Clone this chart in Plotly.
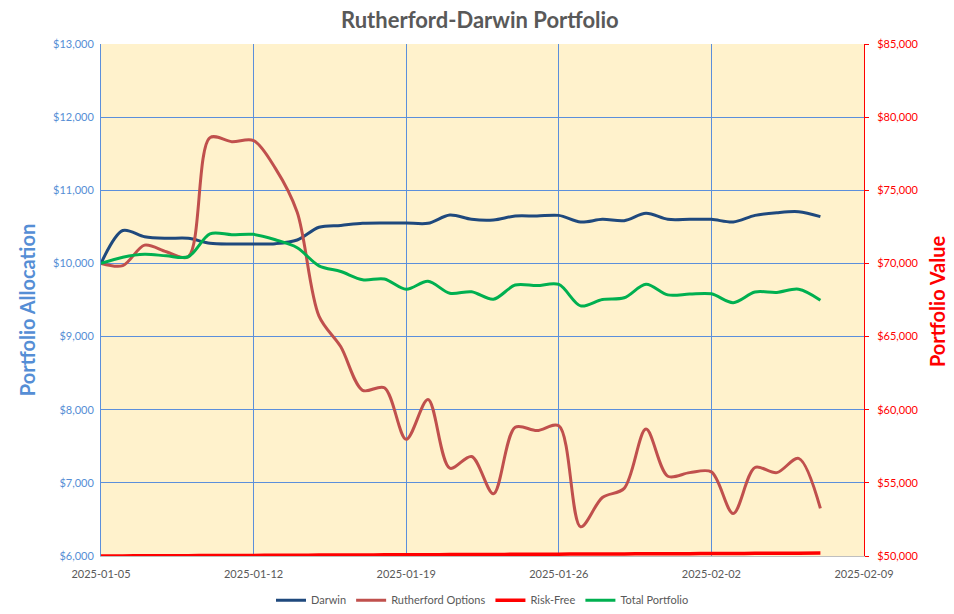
import plotly.graph_objects as go

dates = ["2025-01-05", "2025-01-06", "2025-01-07", "2025-01-08", "2025-01-09", "2025-01-10",
         "2025-01-11", "2025-01-12", "2025-01-13", "2025-01-14", "2025-01-15", "2025-01-16",
         "2025-01-17", "2025-01-18", "2025-01-19", "2025-01-20", "2025-01-21", "2025-01-22",
         "2025-01-23", "2025-01-24", "2025-01-25", "2025-01-26", "2025-01-27", "2025-01-28",
         "2025-01-29", "2025-01-30", "2025-01-31", "2025-02-01", "2025-02-02", "2025-02-03",
         "2025-02-04", "2025-02-05", "2025-02-06", "2025-02-07"]

darwin = [10000, 10450, 10365, 10343, 10343, 10275, 10265, 10265, 10270, 10320, 10495, 10520,
          10548, 10553, 10553, 10548, 10662, 10603, 10594, 10648, 10648, 10657, 10566, 10603,
          10584, 10685, 10603, 10603, 10603, 10566, 10657, 10694, 10707, 10640]

rutherford = [10000, 9970, 10250, 10160, 10090, 11720, 11665, 11680, 11300, 10700, 9280, 8860,
              8265, 8300, 7595, 8140, 7200, 7360, 6850, 7760, 7715, 7780, 6400, 6800,
              6925, 7735, 7090, 7140, 7150, 6580, 7210, 7140, 7335, 6650]

risk_free = [50000, 50006, 50012, 50018, 50024, 50030, 50036, 50042, 50048, 50054, 50060, 50066,
             50072, 50078, 50084, 50090, 50096, 50102, 50108, 50114, 50120, 50126, 50132, 50138,
             50144, 50150, 50156, 50162, 50168, 50174, 50180, 50186, 50192, 50198]

total = [70000, 70426, 70627, 70521, 70457, 72025, 71966, 71987, 71618, 71074, 69835, 69446,
         68885, 68931, 68232, 68778, 67958, 68065, 67552, 68522, 68483, 68563, 67098, 67541,
         67653, 68570, 67849, 67905, 67921, 67320, 68047, 68020, 68234, 67488]

FONT = "Lato"
BLUE_TXT = "#558ED5"
GRID = "#5B8FDB"

fig = go.Figure()
fig.add_trace(go.Scatter(x=dates, y=darwin, name="Darwin", mode="lines",
                         line=dict(color="#1F497D", width=3, shape="spline", smoothing=0.9)))
fig.add_trace(go.Scatter(x=dates, y=rutherford, name="Rutherford Options", mode="lines",
                         line=dict(color="#C0504D", width=3, shape="spline", smoothing=0.9)))
fig.add_trace(go.Scatter(x=dates, y=risk_free, name="Risk-Free", mode="lines", yaxis="y2",
                         line=dict(color="#FF0000", width=3.5, shape="spline", smoothing=0.9)))
fig.add_trace(go.Scatter(x=dates, y=total, name="Total Portfolio", mode="lines", yaxis="y2",
                         line=dict(color="#00B050", width=3, shape="spline", smoothing=0.9)))

fig.update_layout(
    width=954, height=614,
    margin=dict(l=101, r=90, t=44, b=58, autoexpand=False),
    paper_bgcolor="white",
    plot_bgcolor="#FFF2CC",
    font=dict(family=FONT, size=11, color="#595959"),
    title=dict(text="<b>Rutherford-Darwin Portfolio</b>", x=0.503, xanchor="center",
               y=0.967, yanchor="middle", font=dict(family=FONT, size=22, color="#595959")),
    xaxis=dict(type="date", range=["2025-01-05", "2025-02-09"], dtick=7 * 86400000,
               tick0="2025-01-05", tickformat="%Y-%m-%d", showgrid=True, gridcolor=GRID,
               gridwidth=1, showline=True, linecolor="#BFBFBF", linewidth=1, ticks="",
               ticklabelstandoff=8, automargin=False,
               tickfont=dict(family=FONT, size=11, color="#595959"), zeroline=False),
    yaxis=dict(range=[6000, 13000], dtick=1000, tickprefix="$", tickformat=",d",
               showgrid=True, gridcolor=GRID, gridwidth=1, showline=True, linecolor=GRID,
               linewidth=1, zeroline=False, ticks="", ticklabelstandoff=4, automargin=False,
               tickfont=dict(family=FONT, size=11, color=BLUE_TXT)),
    yaxis2=dict(range=[50000, 85000], dtick=5000, tickprefix="$", tickformat=",d",
                overlaying="y", side="right", showgrid=False, showline=True,
                linecolor="#FF0000", linewidth=1, zeroline=False, ticks="outside",
                ticklen=4, tickcolor="#FF0000", ticklabelstandoff=6, automargin=False,
                tickfont=dict(family=FONT, size=11, color="#FF0000")),
    legend=dict(orientation="h", x=0.5, xanchor="center", y=-0.058, yanchor="top",
                font=dict(family=FONT, size=11, color="#595959"), itemwidth=30,
                bgcolor="rgba(0,0,0,0)"),
    showlegend=True,
    annotations=[
        dict(text="<b>Portfolio Allocation</b>", xref="paper", yref="paper",
             x=-0.097, y=0.48, xanchor="center", yanchor="middle", textangle=-90,
             showarrow=False, font=dict(family=FONT, size=20, color=BLUE_TXT)),
        dict(text="<b>Portfolio Value</b>", xref="paper", yref="paper",
             x=1.0957, y=0.498, xanchor="center", yanchor="middle", textangle=-90,
             showarrow=False, font=dict(family=FONT, size=20, color="#FF0000")),
    ],
)

fig.write_html("out.html", config={"displayModeBar": False},
               post_script="document.body.style.margin='0';")
